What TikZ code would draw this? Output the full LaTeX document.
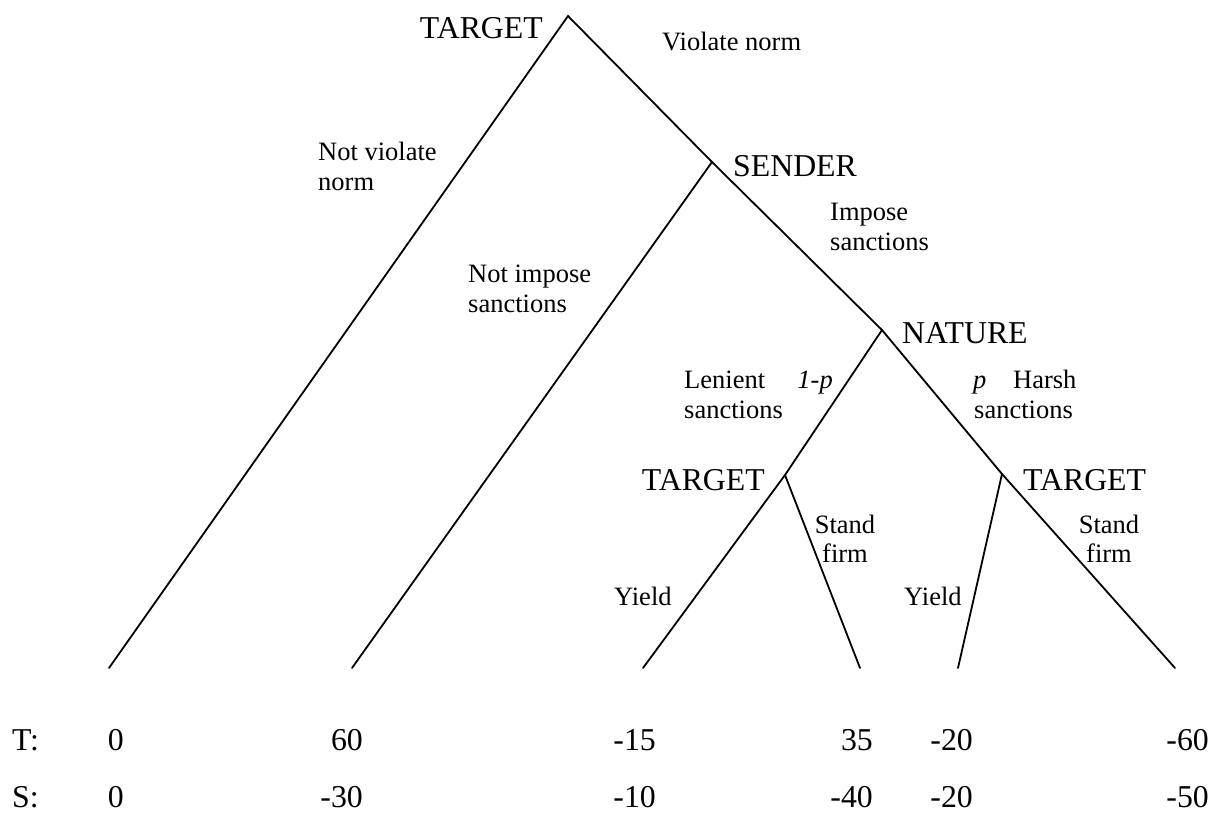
\documentclass[tikz,border=0pt]{standalone}
\usepackage{fontspec}
\setmainfont{Liberation Serif}
\begin{document}
\begin{tikzpicture}[x=1pt,y=-1pt,
  big/.style={font=\fontsize{31.8}{36}\selectfont, inner sep=0pt},
  small/.style={font=\fontsize{26.5}{30}\selectfont, inner sep=0pt, align=left},
  smallc/.style={font=\fontsize{26.5}{29}\selectfont, inner sep=0pt, align=center},
  branch/.style={line width=1.8pt, line cap=round, line join=miter}]
\useasboundingbox (0,0) rectangle (1211,836);
% decision points
\coordinate (root) at (568,16);
\coordinate (sender) at (712,162);
\coordinate (nature) at (882,330);
\coordinate (tl) at (785,475);
\coordinate (tr) at (1002,474);
% leaves
\coordinate (l1) at (109,668);
\coordinate (l2) at (352,668);
\coordinate (l3) at (643,668);
\coordinate (l4) at (860,668);
\coordinate (l5) at (958,668);
\coordinate (l6) at (1175,668);
% branches
\draw[branch] (l1) -- (root) -- (sender) -- (nature) -- (tr) -- (l6);
\draw[branch] (sender) -- (l2);
\draw[branch] (nature) -- (tl) -- (l3);
\draw[branch] (tl) -- (l4);
\draw[branch] (tr) -- (l5);
% player labels
\node[big, anchor=base east] (tRoot) at (543,38) {TARGET};
\node[big, anchor=base west] (tSender) at (733,176) {SENDER};
\node[big, anchor=base west] (tNature) at (902,343) {NATURE};
\node[big, anchor=base east] (tTl) at (765,490) {TARGET};
\node[big, anchor=base west] (tTr) at (1023,490) {TARGET};
% action labels (base anchor = baseline of the last line)
\node[small, anchor=base west] (aViol) at (662,50) {Violate norm};
\node[small, anchor=base west] (aNotViol) at (318,190) {Not violate\\norm};
\node[small, anchor=base west] (aImp) at (830,250) {Impose\\sanctions};
\node[small, anchor=base west] (aNotImp) at (468,312) {Not impose\\sanctions};
\node[small, anchor=base west] (aLen) at (684,418) {Lenient\\sanctions};
\node[small, anchor=base east] (pLen) at (833,388) {\itshape 1-p};
\node[small, anchor=base west] (pHarsh) at (973,388) {\itshape p};
\node[small, anchor=base west] (aHarsh) at (974,418) {\hspace*{39pt}Harsh\\sanctions};
\node[smallc, anchor=base] (aSfL) at (845,562) {Stand\\firm};
\node[smallc, anchor=base] (aSfR) at (1109,562) {Stand\\firm};
\node[small, anchor=base west] (aYL) at (614,605) {Yield};
\node[small, anchor=base west] (aYR) at (904,605) {Yield};
% payoffs
\node[big, anchor=base west] (rowT) at (12,750) {T:};
\node[big, anchor=base west] (rowS) at (12,807) {S:};
\node[big, anchor=base east] (t1) at (124,750) {0};
\node[big, anchor=base east] (t2) at (363,750) {60};
\node[big, anchor=base east] (t3) at (656,750) {-15};
\node[big, anchor=base east] (t4) at (873,750) {35};
\node[big, anchor=base east] (t5) at (973,750) {-20};
\node[big, anchor=base east] (t6) at (1209,750) {-60};
\node[big, anchor=base east] (s1) at (124,807) {0};
\node[big, anchor=base east] (s2) at (363,807) {-30};
\node[big, anchor=base east] (s3) at (656,807) {-10};
\node[big, anchor=base east] (s4) at (873,807) {-40};
\node[big, anchor=base east] (s5) at (973,807) {-20};
\node[big, anchor=base east] (s6) at (1209,807) {-50};
\end{tikzpicture}
\end{document}
